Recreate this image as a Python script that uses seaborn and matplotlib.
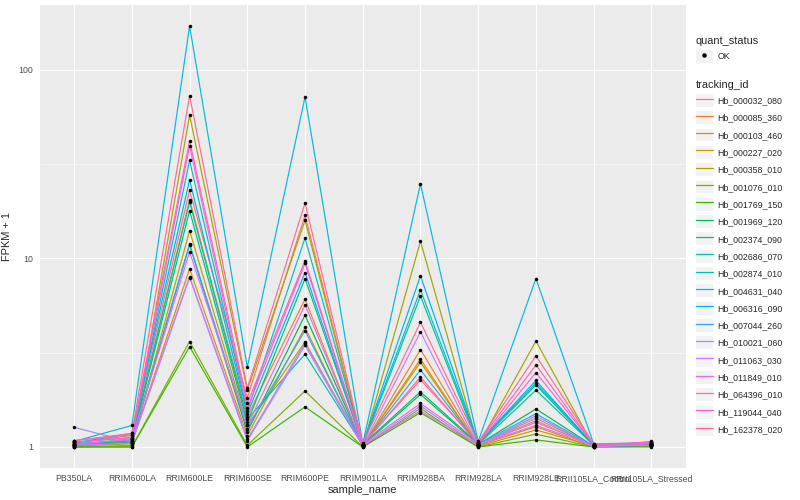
import numpy as np
import pandas as pd
import matplotlib
matplotlib.use("Agg")
import matplotlib.pyplot as plt
import seaborn as sns
from matplotlib.lines import Line2D
from matplotlib.patches import Rectangle
from matplotlib.legend_handler import HandlerTuple
from matplotlib.ticker import FixedLocator, NullFormatter

samples = ["PB350LA", "RRIM600LA", "RRIM600LE", "RRIM600SE", "RRIM600PE",
           "RRIM901LA", "RRIM928BA", "RRIM928LA", "RRIM928LE",
           "RRII105LA_Control", "RRII105LA_Stressed"]

tracking_ids = ["Hb_000032_080", "Hb_000085_360", "Hb_000103_460", "Hb_000227_020",
                "Hb_000358_010", "Hb_001076_010", "Hb_001769_150", "Hb_001969_120",
                "Hb_002374_090", "Hb_002686_070", "Hb_002874_010", "Hb_004631_040",
                "Hb_006316_090", "Hb_007044_260", "Hb_010021_060", "Hb_011063_030",
                "Hb_011849_010", "Hb_064396_010", "Hb_119044_040", "Hb_162378_020"]

# ggplot default hue palette for 20 levels
hue_colors = ["#F8766D", "#EA8331", "#D89000", "#C09B00", "#A3A500", "#7CAE00",
              "#39B600", "#00BB4E", "#00BF7D", "#00C1A3", "#00BFC4", "#00BAE0",
              "#00B0F6", "#35A2FF", "#9590FF", "#C77CFF", "#E76BF3", "#FA62DB",
              "#FF62BC", "#FF6C91"]

# FPKM + 1 per sample, one value per tracking_id (same order as tracking_ids)
pb350la = [1.05, 1.03, 1.02, 1.01, 1.00, 1.00, 1.00, 1.02, 1.04, 1.03,
           1.06, 1.07, 1.05, 1.04, 1.27, 1.02, 1.03, 1.06, 1.08, 1.08]
rrim600la = [1.15, 1.08, 1.05, 1.04, 1.02, 1.00, 1.00, 1.06, 1.07, 1.10,
             1.12, 1.30, 1.18, 1.09, 1.06, 1.05, 1.10, 1.12, 1.16, 1.18]
rrim600le = [22.9, 20.4, 8.8, 14.0, 57.2, 3.62, 3.40, 11.8, 17.9, 19.9,
             33.0, 170.0, 26.0, 11.9, 8.0, 7.9, 10.8, 39.2, 42.0, 72.8]
rrim600se = [1.82, 1.45, 1.15, 1.30, 2.00, 1.02, 1.00, 1.20, 1.35, 1.40,
             1.55, 2.65, 1.50, 1.25, 1.10, 1.08, 1.30, 1.60, 1.70, 2.05]
rrim600pe = [16.9, 6.07, 4.3, 3.6, 15.9, 1.98, 1.63, 5.0, 7.8, 3.10,
             12.8, 71.6, 8.4, 4.14, 3.55, 3.45, 5.66, 9.4, 9.7, 19.6]
rrim901la = [1.02, 1.01, 1.01, 1.02, 1.01, 1.00, 1.00, 1.02, 1.03, 1.02,
             1.03, 1.04, 1.03, 1.02, 1.01, 1.01, 1.02, 1.03, 1.04, 1.05]
rrim928ba = [2.35, 3.28, 2.92, 2.81, 12.3, 1.60, 1.52, 1.90, 1.96, 6.3,
             6.8, 24.8, 8.07, 2.56, 1.65, 4.07, 1.55, 1.70, 2.27, 4.58]
rrim928la = [1.03, 1.02, 1.01, 1.02, 1.02, 1.00, 1.00, 1.03, 1.04, 1.03,
             1.05, 1.07, 1.05, 1.03, 1.02, 1.02, 1.03, 1.04, 1.05, 1.06]
rrim928le = [1.35, 1.42, 1.23, 1.28, 3.64, 1.17, 1.09, 1.59, 2.13, 2.00,
             2.18, 7.8, 2.25, 1.50, 1.46, 1.38, 1.30, 2.48, 2.72, 3.04]
rrii105la_control = [1.02, 1.01, 1.01, 1.00, 1.01, 1.00, 1.00, 1.01, 1.02, 1.02,
                     1.03, 1.04, 1.02, 1.01, 1.01, 1.00, 1.02, 1.03, 1.03, 1.04]
rrii105la_stressed = [1.03, 1.02, 1.05, 1.07, 1.06, 1.01, 1.00, 1.02, 1.03, 1.02,
                      1.04, 1.05, 1.03, 1.02, 1.02, 1.04, 1.05, 1.06, 1.05, 1.04]

columns = [pb350la, rrim600la, rrim600le, rrim600se, rrim600pe, rrim901la,
           rrim928ba, rrim928la, rrim928le, rrii105la_control, rrii105la_stressed]

rows = []
for s, vals in zip(samples, columns):
    for t, v in zip(tracking_ids, vals):
        rows.append((s, t, v))
df = pd.DataFrame(rows, columns=["sample_name", "tracking_id", "fpkm1"])
df["sample_name"] = pd.Categorical(df["sample_name"], categories=samples, ordered=True)

palette = dict(zip(tracking_ids, hue_colors))

sns.set_theme(style="darkgrid")
plt.rcParams["font.family"] = ["Liberation Sans", "DejaVu Sans"]

fig = plt.figure(figsize=(8, 5), dpi=100)
ax = fig.add_axes([39.5 / 800, 1 - 468 / 500, (686 - 39.5) / 800, (468 - 5) / 500])
ax.set_facecolor("#EBEBEB")

sns.lineplot(data=df, x="sample_name", y="fpkm1", hue="tracking_id",
             palette=palette, linewidth=0.85, errorbar=None, legend=False, ax=ax)
sns.scatterplot(data=df, x="sample_name", y="fpkm1", color="black", s=5,
                edgecolor="black", linewidth=0.3, legend=False, ax=ax, zorder=3)

ax.set_yscale("log")
lv = np.log10(df["fpkm1"])
span = lv.max() - lv.min()
ax.set_ylim(10 ** (lv.min() - 0.05 * span), 10 ** (lv.max() + 0.05 * span))
ax.set_xlim(-0.6, len(samples) - 0.4)
ax.yaxis.set_major_locator(FixedLocator([1, 10, 100]))
ax.yaxis.set_minor_locator(FixedLocator([10 ** 0.5, 10 ** 1.5, 10 ** 2.5]))
ax.yaxis.set_minor_formatter(NullFormatter())
ax.set_yticklabels(["1", "10", "100"])

ax.grid(which="major", color="white", linewidth=0.8)
ax.grid(which="minor", axis="y", color="white", linewidth=0.4)
ax.grid(which="minor", axis="x", visible=False)
for sp in ax.spines.values():
    sp.set_visible(False)
ax.tick_params(axis="both", which="major", length=2.5, width=0.6, color="#333333",
               labelsize=6.3, labelcolor="#4D4D4D", pad=2)
ax.tick_params(axis="both", which="minor", length=0)
ax.set_xlabel("sample_name", fontsize=7.9, labelpad=1)
ax.set_ylabel("FPKM + 1", fontsize=7.9, labelpad=5)

key_bg = "#F2F2F2"
h_ok = (Rectangle((0, 0), 1, 1, facecolor=key_bg, edgecolor="none"),
        Line2D([], [], marker="o", color="black", linestyle="none", markersize=2.2))
leg1 = fig.legend([h_ok], ["OK"], title="quant_status", loc="upper left",
                  bbox_to_anchor=(692 / 800, 1 - 32 / 500), frameon=False,
                  fontsize=6.3, title_fontsize=7.9, handlelength=2.0, handleheight=1.9,
                  handletextpad=0.5, borderaxespad=0,
                  handler_map={tuple: HandlerTuple(ndivide=1)})
leg1._legend_box.align = "left"

h_lines = [(Rectangle((0, 0), 1, 1, facecolor=key_bg, edgecolor="none"),
            Line2D([], [], color=palette[t], linewidth=0.9)) for t in tracking_ids]
leg2 = fig.legend(h_lines, tracking_ids, title="tracking_id", loc="upper left",
                  bbox_to_anchor=(692 / 800, 1 - 76 / 500), frameon=False,
                  fontsize=6.3, title_fontsize=7.9, handlelength=2.0, handleheight=1.9,
                  handletextpad=0.5, labelspacing=0.5, borderaxespad=0,
                  handler_map={tuple: HandlerTuple(ndivide=1)})
leg2._legend_box.align = "left"

fig.savefig("out.png", dpi=100)
